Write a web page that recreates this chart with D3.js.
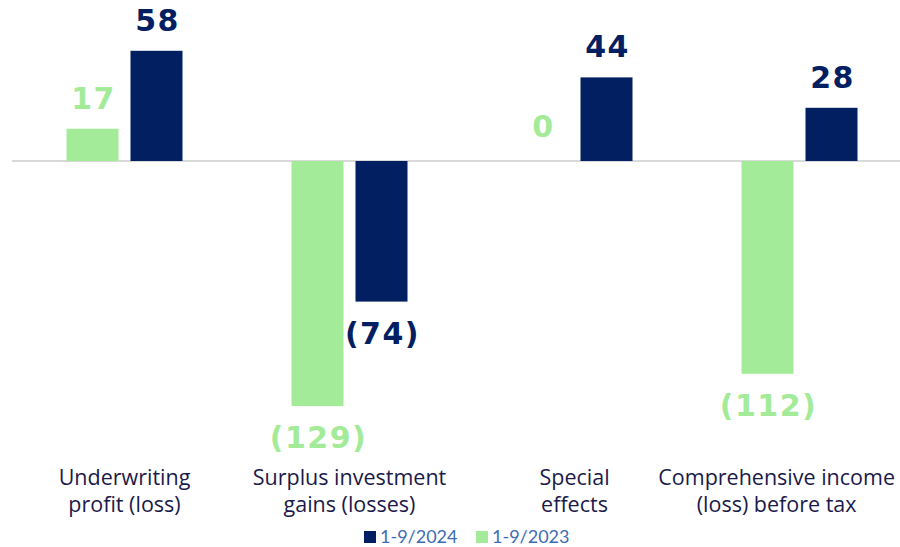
<!DOCTYPE html>
<html>
<head>
<meta charset="utf-8">
<script src="https://cdn.jsdelivr.net/npm/d3@7"></script>
<style>
  body { margin: 0; background: #fff; }
  svg { display: block; }
</style>
</head>
<body>
<div id="chart"></div>
<script>
// data
const categories = [
    ['Underwriting', 'profit (loss)'],
    ['Surplus investment', 'gains (losses)'],
    ['Special', 'effects'],
    ['Comprehensive income', '(loss) before tax']
];
const seriesNames = ['1-9/2023', '1-9/2024'];
const values2023 = [17, -129, 0, -112];
const values2024 = [58, -74, 44, 28];
const legendOrder = ['1-9/2024', '1-9/2023'];

const colors = { '1-9/2023': '#a3eb99', '1-9/2024': '#022061' };

const width = 900, height = 547;

const svg = d3.select('#chart')
    .append('svg')
    .attr('width', width)
    .attr('height', height);

// scales
const x0 = d3.scaleBand()
    .domain(d3.range(categories.length))
    .range([12, 912]);

const x1 = d3.scaleBand()
    .domain(seriesNames)
    .range([0, 116])
    .paddingInner(0.1875);

const y = d3.scaleLinear()
    .domain([-140, 70])
    .range([427, 28]);

const rows = categories.map((c, i) => ({
    i,
    items: [
        { key: '1-9/2023', value: values2023[i] },
        { key: '1-9/2024', value: values2024[i] }
    ]
}));

const groupX = i => x0(i) + (x0.bandwidth() - 116) / 2;

// zero line
svg.append('line')
    .attr('x1', 12)
    .attr('x2', width)
    .attr('y1', y(0))
    .attr('y2', y(0))
    .style('stroke', '#d9d9d9')
    .style('stroke-width', 2);

const groups = svg.selectAll('.group')
    .data(rows)
    .enter()
    .append('g')
    .attr('class', 'group')
    .attr('transform', d => `translate(${groupX(d.i)},0)`);

// bars
groups.selectAll('rect')
    .data(d => d.items.filter(it => it.value !== 0))
    .enter()
    .append('rect')
    .attr('x', d => x1(d.key))
    .attr('y', d => y(Math.max(0, d.value)))
    .attr('width', x1.bandwidth())
    .attr('height', d => Math.abs(y(d.value) - y(0)))
    .attr('fill', d => colors[d.key]);

// value labels
const fmt = v => v < 0 ? `(${Math.abs(v)})` : `${v}`;
groups.selectAll('.val')
    .data(d => d.items)
    .enter()
    .append('text')
    .attr('class', 'val')
    .attr('x', d => x1(d.key) + x1.bandwidth() / 2 + 1)
    .attr('y', d => {
        if (d.value > 0) return y(d.value) - 20;
        if (d.value < 0) return y(d.value) + 42;
        return y(0) - 24;
    })
    .attr('text-anchor', 'middle')
    .style('font-family', '"DejaVu Sans", sans-serif')
    .style('font-weight', 'bold')
    .style('font-size', '30px')
    .style('letter-spacing', '1.5px')
    .style('fill', d => colors[d.key])
    .text(d => fmt(d.value));

// category labels
const catText = svg.selectAll('.cat')
    .data(categories)
    .enter()
    .append('text')
    .attr('class', 'cat')
    .attr('y', 485)
    .attr('text-anchor', 'middle')
    .style('font-family', '"Open Sans", sans-serif')
    .style('font-size', '21.5px')
    .style('fill', '#1b1a4a');

catText.selectAll('tspan')
    .data(d => d)
    .enter()
    .append('tspan')
    .attr('x', function () {
        const i = d3.select(this.parentNode).datum();
        return x0(categories.indexOf(i)) + x0.bandwidth() / 2;
    })
    .attr('dy', (d, j) => j === 0 ? 0 : 27)
    .text(d => d);

// keep labels inside the right edge
catText.each(function (d, i) {
    const w = this.getBBox().width;
    const cx = Math.min(x0(i) + x0.bandwidth() / 2, width - w / 2 - 5);
    d3.select(this).selectAll('tspan').attr('x', cx);
});

// legend
const legend = svg.append('g')
    .attr('transform', 'translate(364,531)');

const legItems = legend.selectAll('g')
    .data(legendOrder)
    .enter()
    .append('g')
    .attr('transform', (d, i) => `translate(${i * 112},0)`);

legItems.append('rect')
    .attr('width', 12)
    .attr('height', 12)
    .attr('fill', d => colors[d]);

legItems.append('text')
    .attr('x', 16)
    .attr('y', 12)
    .style('font-family', 'Lato, sans-serif')
    .style('font-size', '18px')
    .style('fill', '#3d6cb5')
    .text(d => d);
</script>
</body>
</html>
